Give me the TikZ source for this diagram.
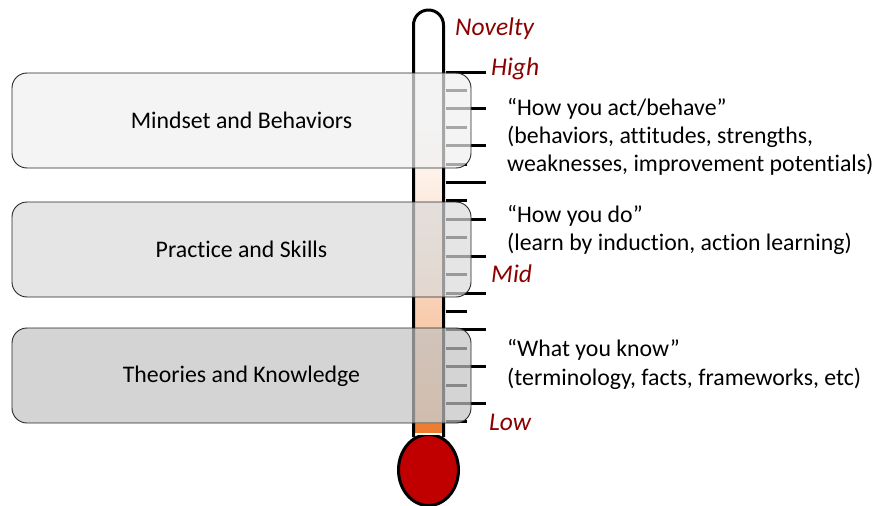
\documentclass[tikz,border=0pt]{standalone}
\usepackage{fontspec}
\setmainfont{Carlito}[Ligatures=NoCommon]
\definecolor{lblred}{RGB}{139,0,0}
\definecolor{peach}{RGB}{244,177,131}
\definecolor{orng}{RGB}{237,125,49}
\definecolor{bulbred}{RGB}{192,0,0}
\definecolor{boxA}{RGB}{239,239,239}
\definecolor{boxB}{RGB}{218,218,218}
\definecolor{boxC}{RGB}{194,194,194}
\tikzset{
  layerbox/.style={draw=black!85, line width=0.9pt, rounded corners=15pt, fill opacity=0.7},
  boxtext/.style={anchor=base, font=\fontsize{23.8}{28}\selectfont, inner sep=0pt},
  desc/.style={anchor=base west, font=\fontsize{23.8}{28}\selectfont, inner sep=0pt},
  lvl/.style={anchor=base west, font=\fontsize{25.5}{30}\selectfont\itshape, text=lblred, inner sep=0pt},
  tickmark/.style={line width=3pt},
  tubeline/.style={line width=3pt, line join=round}
}
\begin{document}
\begin{tikzpicture}[x=1pt,y=-1pt]
\useasboundingbox (0,0) rectangle (879,506);
% tube interior
\fill[white] (414,12) rectangle (443,120);
\shade[top color=white, bottom color=peach] (414,120) rectangle (443,424);
\fill[orng] (414,424) rectangle (443,433);
% bulb
\draw[line width=3pt, fill=bulbred] (428.5,470) ellipse [x radius=30, y radius=35.5];
\fill[white] (415,433) rectangle (442,434.5);
% tube outline
\draw[tubeline, rounded corners=15pt] (413.5,437) -- (413.5,10) -- (443.5,10) -- (443.5,437);
% ticks
\foreach \i in {0,...,19} {
  \pgfmathsetmacro\yy{72+\i*18.42}
  \pgfmathsetmacro\xe{mod(\i,2)==0 ? 486 : 467}
  \draw[tickmark] (446,\yy) -- (\xe,\yy);
}
% boxes
\draw[layerbox, fill=boxA] (12,73) rectangle (471,168);
\draw[layerbox, fill=boxB] (12,202) rectangle (471,297);
\draw[layerbox, fill=boxC] (12,328) rectangle (471,423);
\node[boxtext] (mb) at (241.5,128) {Mindset and Behaviors};
\node[boxtext] (ps) at (241.5,257) {Practice and Skills};
\node[boxtext] (tk) at (241.5,382) {Theories and Knowledge};
% level labels
\node[lvl] (nov) at (455,35) {Novelty};
\node[lvl] (high) at (491,75) {High};
\node[lvl] (mid) at (491,282) {Mid};
\node[lvl] (low) at (489,430) {Low};
% descriptions
\node[desc] (d1a) at (507,115) {“How you act/behave”};
\node[desc] (d1b) at (507,143) {(behaviors, attitudes, strengths,};
\node[desc] (d1c) at (507,171.5) {weaknesses, improvement potentials)};
\node[desc] (d2a) at (507,222) {“How you do”};
\node[desc] (d2b) at (507,250.5) {(learn by induction, action learning)};
\node[desc] (d3a) at (507,356) {“What you know”};
\node[desc] (d3b) at (507,385) {(terminology, facts, frameworks, etc)};
\end{tikzpicture}
\end{document}
